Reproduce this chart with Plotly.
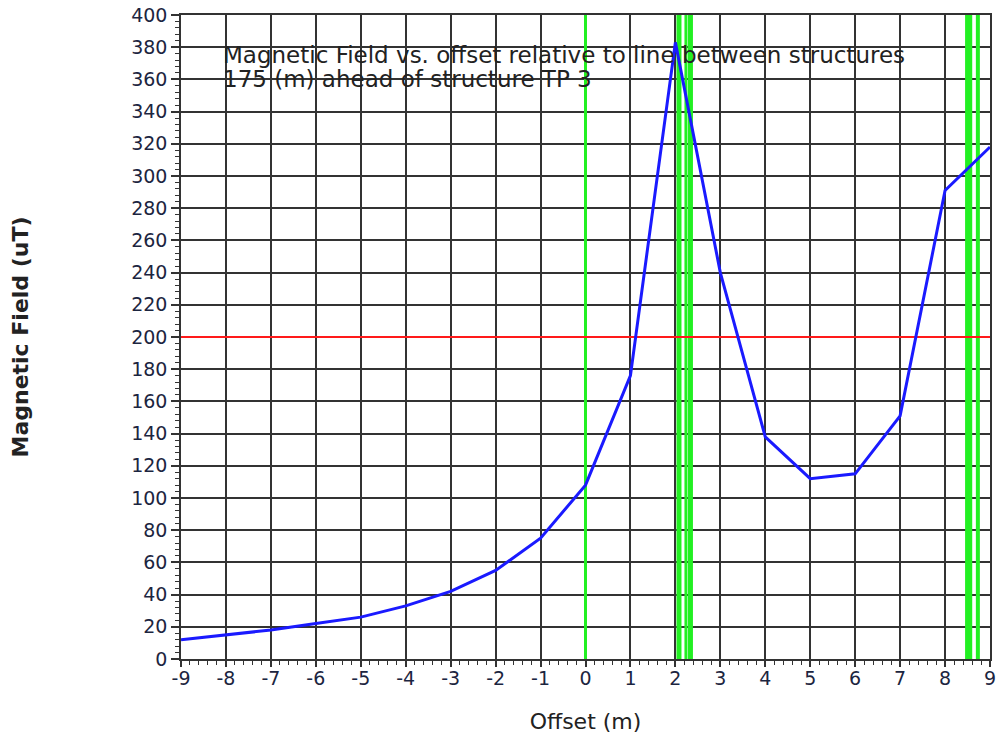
import plotly.graph_objects as go

# Field profile across the corridor
offset_m = [-9, -8, -7, -6, -5, -4, -3, -2, -1, 0, 1, 2, 3, 4, 5, 6, 7, 8, 9]
field_uT = [12, 15, 18, 22, 26, 33, 42, 55, 75, 108, 176, 383, 240, 138, 112, 115, 151, 291, 318]

# Conductor / structure positions (offset, drawn width) and the reference limit
conductor_x = [0, 2.08, 2.235, 2.335, 8.49, 8.56, 8.73]
conductor_w = [3, 5, 3, 5, 4, 4, 4]
limit_uT = 200

title_lines = ["Magnetic Field vs. offset relative to line between structures",
               "175 (m) ahead of structure TP 3"]

x_ticks = list(range(-9, 10))
y_ticks = list(range(0, 401, 20))

FONT = "DejaVu Sans, Arial, sans-serif"
L, R, T, B = 181, 12, 15, 83
W, H = 1002, 742
plot_w, plot_h = W - L - R, H - T - B

fig = go.Figure()

for cx, w in zip(conductor_x, conductor_w):
    fig.add_trace(go.Scatter(x=[cx, cx], y=[0, 400], mode="lines",
                             line=dict(color="#22f022", width=w),
                             hoverinfo="skip", showlegend=False))

fig.add_trace(go.Scatter(x=[-9, 9], y=[limit_uT, limit_uT], mode="lines",
                         line=dict(color="#ff1a1a", width=2),
                         hoverinfo="skip", showlegend=False))

fig.add_trace(go.Scatter(x=offset_m, y=field_uT, mode="lines",
                         line=dict(color="#1a1aff", width=3),
                         showlegend=False))

# Two-line caption, placed line by line to keep the spacing tight
for line, ypix in zip(title_lines, [55, 79]):
    fig.add_annotation(x=(222 - L) / plot_w, y=1 - (ypix - T) / plot_h,
                       xref="paper", yref="paper",
                       text=line, showarrow=False, xanchor="left", yanchor="middle",
                       borderpad=0,
                       font=dict(family=FONT, size=23, color="#222222"))

axis_font = dict(family=FONT, size=19, color="#1c2540")

fig.update_xaxes(range=[-9, 9], tickvals=x_ticks, ticktext=[str(v) for v in x_ticks],
                 automargin=False,
                 showgrid=True, gridcolor="#333333", gridwidth=1.5,
                 showline=True, linecolor="#333333", linewidth=1.5, mirror=True,
                 ticks="outside", ticklen=6, tickwidth=1.5, tickcolor="#333333",
                 ticklabelstandoff=-5,
                 minor=dict(dtick=0.2, ticks="outside", ticklen=4, tickwidth=1.2,
                            tickcolor="#333333", showgrid=False),
                 tickfont=axis_font, zeroline=False,
                 title=dict(text="Offset (m)", font=dict(family=FONT, size=22, color="#222222"),
                            standoff=26))
fig.update_yaxes(range=[0, 400], tickvals=y_ticks,
                 automargin=False,
                 showgrid=True, gridcolor="#333333", gridwidth=1.5,
                 showline=True, linecolor="#333333", linewidth=1.5, mirror=True,
                 ticks="outside", ticklen=8, tickwidth=1.5, tickcolor="#333333",
                 minor=dict(dtick=4, ticks="outside", ticklen=4, tickwidth=1.2,
                            tickcolor="#333333", showgrid=False),
                 tickfont=axis_font, zeroline=False,
                 title=dict(text="<b>Magnetic Field (uT)</b>",
                            font=dict(family=FONT, size=22, color="#222222"),
                            standoff=96))

fig.update_layout(width=W, height=H, margin=dict(l=L, r=R, t=T, b=B),
                  plot_bgcolor="white", paper_bgcolor="white")

fig.write_html("out.html")
